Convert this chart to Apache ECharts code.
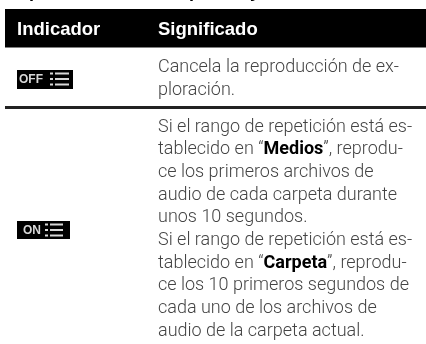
<!DOCTYPE html>
<html>
<head>
    <meta http-equiv="Content-Type" content="text/html; charset=utf-8">
    <title>Indicador</title>
    <script src="https://cdn.jsdelivr.net/npm/echarts@6/dist/echarts.min.js"></script>
    <style>
        html, body {margin:0;padding:0;background:#fff;}
    </style>
</head>
<body>
    <div id="main" style="width: 426px;height:344px;"></div>
    <script type="text/javascript">
        var headers = ["Indicador", "Significado"];
        var icons = ["OFF", "ON"];
        var offLines = ["Cancela la reproducción de ex-", "ploración."];
        var onLines = [
            "Si el rango de repetición está es-",
            "tablecido en “{b|Medios}”, reprodu-",
            "ce los primeros archivos de",
            "audio de cada carpeta durante",
            "unos 10 segundos.",
            "Si el rango de repetición está es-",
            "tablecido en “{b|Carpeta}”, reprodu-",
            "ce los 10 primeros segundos de",
            "cada uno de los archivos de",
            "audio de la carpeta actual."
        ];

        var myChart = echarts.init(document.getElementById('main'), null, {renderer: 'canvas'});
        var headFont = '"Liberation Sans", Arial, sans-serif';
        var bodyFont = 'Roboto, "Liberation Sans", sans-serif';
        var bodyColor = '#444';
        var els = [];

        function rect(x, y, w, h, fill) {
            els.push({type: 'rect', shape: {x: x, y: y, width: w, height: h}, style: {fill: fill}});
        }
        function bodyText(str, y) {
            els.push({type: 'text', x: 158, y: y, style: {
                text: str, fill: bodyColor, font: '300 18px ' + bodyFont, verticalAlign: 'middle',
                rich: {b: {font: 'bold 18px ' + bodyFont, fill: '#000', verticalAlign: 'middle'}}
            }});
        }
        function drawIcon(label, x, y, w, h, textX, listX, listW, step) {
            rect(x, y, w, h, '#000');
            els.push({type: 'text', x: textX, y: y + h / 2 + 0.5, style: {
                text: label, fill: '#d8d8d8', font: 'bold 12px ' + headFont, verticalAlign: 'middle'
            }});
            // the list glyph: dots and three bars
            for (var i = 0; i < 3; i++) {
                rect(listX, y + 2.5 + i * step, 3, 2, '#d8d8d8');
                rect(listX + 5, y + 2.5 + i * step, listW - 5, 2, '#d8d8d8');
            }
        }

        // descenders of the heading that the top edge cuts off
        [["p", 29], ["p", 189], ["y", 250]].forEach(function (d) {
            els.push({type: 'text', x: d[1], y: -8, style: {
                text: d[0], fill: '#000', font: 'bold 18px ' + headFont, verticalAlign: 'middle'
            }});
        });

        rect(5, 9, 421, 38.5, '#000');
        els.push({type: 'text', x: 17, y: 30, style: {text: headers[0], fill: '#fff', font: 'bold 18.5px ' + headFont, verticalAlign: 'middle'}});
        els.push({type: 'text', x: 158, y: 30, style: {text: headers[1], fill: '#fff', font: 'bold 18.5px ' + headFont, verticalAlign: 'middle'}});

        rect(5, 106, 421, 3, '#222');

        drawIcon(icons[0], 17, 70, 56, 19, 19, 50, 19, 5.5);
        drawIcon(icons[1], 17, 221, 53, 18, 23, 45, 18, 5.5);

        offLines.forEach(function (s, i) { bodyText(s, 67 + i * 23); });
        onLines.forEach(function (s, i) { bodyText(s, 127 + i * 22.7); });

        var option = {
            animation: false,
            graphic: {elements: els}
        };
        myChart.setOption(option);
    </script>
</body>
</html>
